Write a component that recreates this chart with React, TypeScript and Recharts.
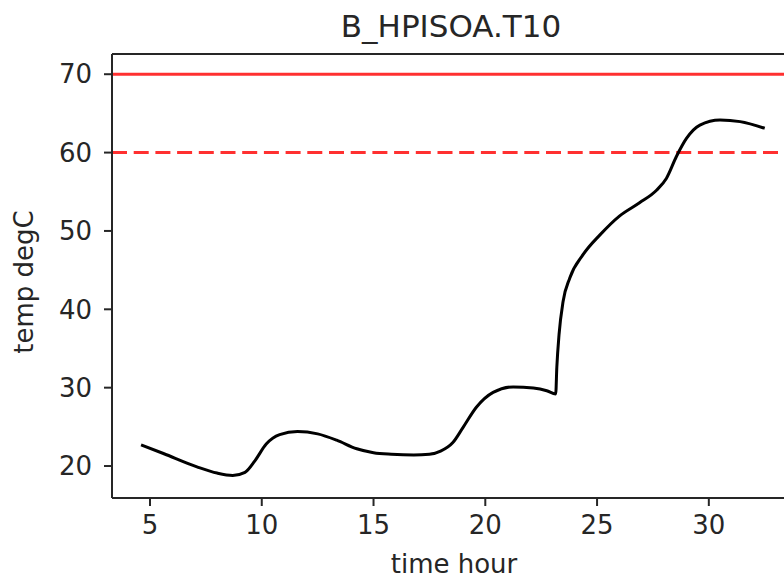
import { Label, Line, LineChart, ReferenceLine, XAxis, YAxis } from 'recharts'

// time (hours) and temperature (degC)
const timeHours = [
  4.6, 5.6, 7.1, 8.0, 8.7, 9.25, 9.7, 10.2, 10.8, 11.6, 12.5, 13.35, 14.25, 15.0, 15.8, 16.8, 17.5, 18.0, 18.55,
  19.0, 19.6, 20.35, 21.25, 22.15, 22.75, 23.15, 23.2, 23.3, 23.48, 23.78, 24.38, 25.13, 26.0, 26.9, 27.66, 28.1,
  28.55, 29.0, 29.6, 30.5, 31.4, 32.5,
]
const tempDegC = [
  22.7, 21.6, 19.9, 19.1, 18.8, 19.2, 20.7, 22.8, 24.0, 24.4, 24.1, 23.3, 22.2, 21.7, 21.5, 21.4, 21.5, 21.9, 23.0,
  24.9, 27.5, 29.4, 30.1, 29.95, 29.6, 29.2, 32.6, 36.8, 41.0, 44.0, 47.0, 49.5, 51.9, 53.6, 55.2, 56.7, 59.5, 61.8,
  63.5, 64.15, 63.95, 63.1,
]

const xTicks = [5, 10, 15, 20, 25, 30]
const yTicks = [20, 30, 40, 50, 60, 70]
const xDomain = [3.3, 33.9]
const yDomain = [15.92, 72.58]

const alarmLimit = 70
const warnLimit = 60

const data = timeHours.map((t, i) => ({ t, temp: tempDegC[i] }))

const font = '"DejaVu Sans", sans-serif'
const ink = '#262626'
const tickStyle = { fontSize: 26, fontFamily: font, fill: ink }

export default function App() {
  return (
    <div
      style={{
        position: 'absolute',
        left: 0,
        top: 0,
        width: 784,
        height: 577,
        overflow: 'hidden',
        background: '#fff',
      }}
    >
      <div
        style={{
          position: 'absolute',
          left: 0,
          top: 11,
          width: 902,
          textAlign: 'center',
          fontFamily: font,
          fontSize: 31,
          lineHeight: '31px',
          color: ink,
        }}
      >
        B_HPISOA.T10
      </div>
      <LineChart width={810} height={577} data={data} margin={{ top: 54, right: 14, bottom: 0, left: 0 }}>
        <XAxis
          dataKey="t"
          type="number"
          domain={xDomain}
          allowDataOverflow
          ticks={xTicks}
          height={79}
          tickSize={8}
          tickMargin={10}
          tick={tickStyle}
          stroke={ink}
          strokeWidth={2}
        >
          <Label
            value="time hour"
            position="insideBottom"
            offset={4}
            style={{ fontSize: 26, fontFamily: font, fill: ink }}
          />
        </XAxis>
        <YAxis
          type="number"
          domain={yDomain}
          allowDataOverflow
          ticks={yTicks}
          width={112}
          tickSize={8}
          tickMargin={12}
          tick={tickStyle}
          stroke={ink}
          strokeWidth={2}
        >
          <Label
            content={() => (
              <text
                x={33}
                y={282}
                transform="rotate(-90 33 282)"
                textAnchor="middle"
                style={{ fontSize: 26, fontFamily: font, fill: ink }}
              >
                temp degC
              </text>
            )}
          />
        </YAxis>
        {/* top spine of the axes frame */}
        <ReferenceLine y={yDomain[1]} stroke={ink} strokeWidth={2} />
        <ReferenceLine y={alarmLimit} stroke="#ff3030" strokeWidth={3} />
        <ReferenceLine y={warnLimit} stroke="#ff3030" strokeWidth={3} strokeDasharray="15 6.7" />
        <Line
          type="monotone"
          dataKey="temp"
          stroke="#000"
          strokeWidth={3}
          dot={false}
          activeDot={false}
          isAnimationActive={false}
        />
      </LineChart>
    </div>
  )
}
